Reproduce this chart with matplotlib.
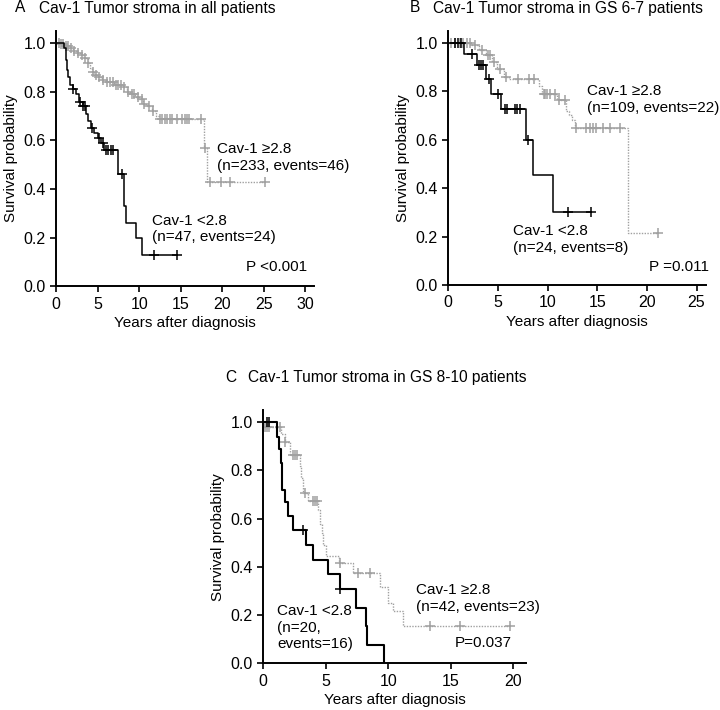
import numpy as np
import matplotlib
matplotlib.use('Agg')
import matplotlib.pyplot as plt

plt.rcParams['font.family'] = ['Liberation Sans', 'DejaVu Sans']

# ---------------- data ----------------
# Panel A - all patients
a_low_t = [0, 0.96, 1.2, 1.35, 1.5, 1.7, 2.0, 2.4, 2.8, 3.2, 3.6, 3.9, 4.2, 4.6, 5.0, 5.4, 5.8, 7.5, 8.2, 8.4, 9.6, 10.3]
a_low_s = [1.0, 0.98, 0.93, 0.89, 0.86, 0.83, 0.81, 0.79, 0.76, 0.74, 0.71, 0.68, 0.65, 0.63, 0.61, 0.59, 0.56, 0.46, 0.33, 0.26, 0.20, 0.13]
a_low_end = 14.6
a_low_cens = [2.0, 2.9, 3.3, 3.5, 4.3, 5.2, 5.6, 6.0, 6.3, 6.6, 6.9, 7.9, 11.8, 14.6]

a_high_t = [0, 0.5, 1.0, 1.5, 2.0, 2.5, 3.0, 3.4, 3.8, 4.1, 4.3, 4.6, 5.0, 5.5, 6.0, 7.0, 8.0, 8.5, 9.0, 9.5, 10.0, 10.5, 11.0, 11.5, 12.0, 12.4, 17.8, 18.1]
a_high_s = [1.0, 0.995, 0.99, 0.98, 0.97, 0.96, 0.95, 0.94, 0.92, 0.90, 0.88, 0.87, 0.86, 0.85, 0.84, 0.83, 0.82, 0.80, 0.79, 0.78, 0.77, 0.75, 0.74, 0.72, 0.70, 0.69, 0.57, 0.43]
a_high_end = 25.1
a_high_cens = [0.3, 0.6, 0.9, 1.2, 1.4, 1.8, 2.2, 2.6, 3.1, 3.5, 3.9, 4.4, 4.8, 5.2, 5.7, 6.1, 6.5,
               6.8, 7.2, 7.5, 7.8, 8.2, 8.6, 9.1, 9.4, 9.8, 10.3, 10.6, 11.2, 11.7, 12.5, 12.8, 13.1,
               13.4, 13.7, 14.0, 14.6, 15.1, 15.5, 15.7, 16.0, 17.4, 17.95, 18.5, 19.9, 20.9, 25.1]

# Panel B - GS 6-7
b_low_t = [0, 1.58, 2.85, 3.76, 4.26, 5.3, 7.8, 8.5, 10.5]
b_low_s = [1.0, 0.955, 0.91, 0.85, 0.79, 0.725, 0.60, 0.453, 0.302]
b_low_end = 14.4
b_low_cens = [0.7, 1.0, 1.3, 2.35, 3.1, 3.3, 3.5, 4.1, 5.0, 5.7, 5.9, 6.7, 6.9, 7.2, 8.05, 12.1, 14.4]

b_high_t = [0, 2.4, 3.1, 3.8, 4.4, 4.9, 5.6, 6.1, 9.1, 9.4, 10.9, 11.9, 12.2, 12.5, 12.8, 18.1]
b_high_s = [1.0, 0.99, 0.97, 0.95, 0.92, 0.89, 0.86, 0.85, 0.82, 0.79, 0.765, 0.72, 0.70, 0.68, 0.65, 0.215]
b_high_end = 21.1
b_high_cens = [0.3, 0.7, 1.2, 1.5, 1.9, 2.2, 2.7, 3.4, 4.0, 4.2, 4.6, 5.2, 5.8, 7.0, 8.1, 8.6,
               9.6, 9.75, 9.9, 10.2, 10.7, 11.1, 11.8, 12.9, 13.9, 14.3, 14.6, 14.9, 15.6, 16.3, 17.3, 21.1]

# Panel C - GS 8-10
c_low_t = [0, 1.07, 1.25, 1.4, 1.52, 1.73, 2.0, 2.4, 3.4, 4.0, 5.15, 6.1, 7.4, 8.2, 8.3, 9.65]
c_low_s = [1.0, 0.94, 0.89, 0.83, 0.72, 0.67, 0.61, 0.555, 0.49, 0.43, 0.37, 0.31, 0.23, 0.155, 0.077, 0.0]
c_low_end = 9.65
c_low_cens = [0.3, 0.45, 3.2, 6.15]

c_high_t = [0, 0.05, 1.4, 1.7, 2.1, 2.9, 3.05, 3.2, 3.6, 4.4, 4.55, 4.7, 4.8, 5.0, 6.05, 7.2, 9.3, 10.0, 10.4, 11.2]
c_high_s = [1.0, 0.98, 0.95, 0.92, 0.865, 0.82, 0.77, 0.705, 0.675, 0.635, 0.58, 0.54, 0.49, 0.445, 0.415, 0.373, 0.318, 0.25, 0.215, 0.155]
c_high_end = 19.7
c_high_cens = [0.1, 0.3, 0.45, 1.3, 1.75, 2.4, 2.55, 2.7, 3.3, 4.0, 4.15, 4.3, 6.1, 7.6, 8.5, 13.3, 15.7, 19.7]

GRAY = '#a0a0a0'
FS = 11


def draw_km(ax, t, s, end, cens, color, ls, lw):
    tt = list(t) + [end]
    ss = list(s) + [s[-1]]
    ax.step(tt, ss, where='post', color=color, linestyle=ls, linewidth=lw)
    idx = np.searchsorted(np.array(t), np.array(cens), side='right') - 1
    ax.plot(cens, np.array(s)[idx], linestyle='none', marker='+',
            color=color, markersize=7, markeredgewidth=1.1)


def style_axes(ax, xmax, xticks):
    ax.set_xlim(0, xmax)
    ax.set_ylim(0, 1.05)
    ax.set_xticks(xticks)
    ax.set_yticks([0, 0.2, 0.4, 0.6, 0.8, 1.0])
    ax.set_yticklabels(['0.0', '0.2', '0.4', '0.6', '0.8', '1.0'])
    for side in ['top', 'right']:
        ax.spines[side].set_visible(False)
    for side in ['left', 'bottom']:
        ax.spines[side].set_linewidth(1.4)
    ax.tick_params(direction='out', length=4, width=1.2, labelsize=11.5)
    ax.set_ylabel('Survival probability', fontsize=11)
    ax.set_xlabel('Years after diagnosis', fontsize=11, labelpad=3)


fig = plt.figure(figsize=(7.2, 7.1), dpi=100)

# ---- panel A ----
axA = fig.add_axes([0.0778, 0.597, 0.358, 0.3592])
draw_km(axA, a_high_t, a_high_s, a_high_end, a_high_cens, GRAY, (0, (1, 1)), 1.0)
draw_km(axA, a_low_t, a_low_s, a_low_end, a_low_cens, 'black', '-', 1.1)
style_axes(axA, 31, [0, 5, 10, 15, 20, 25, 30])
axA.text(19.4, 0.53, 'Cav-1 \u22652.8\n(n=233, events=46)', fontsize=FS, va='center', linespacing=1.25)
axA.text(11.5, 0.235, 'Cav-1 <2.8\n(n=47, events=24)', fontsize=FS, va='center', linespacing=1.25)
axA.text(30.2, 0.08, 'P <0.001', fontsize=FS, va='center', ha='right')
fig.text(15 / 720, 1 - 8 / 710, 'A', fontsize=11.2, va='center')
fig.text(39 / 720, 1 - 8 / 710, 'Cav-1 Tumor stroma in all patients', fontsize=11.2, va='center')

# ---- panel B ----
axB = fig.add_axes([0.6226, 0.5986, 0.3586, 0.3583])
draw_km(axB, b_high_t, b_high_s, b_high_end, b_high_cens, GRAY, (0, (1, 1)), 1.0)
draw_km(axB, b_low_t, b_low_s, b_low_end, b_low_cens, 'black', '-', 1.1)
style_axes(axB, 26, [0, 5, 10, 15, 20, 25])
axB.text(14.0, 0.765, 'Cav-1 \u22652.8\n(n=109, events=22)', fontsize=FS, va='center', linespacing=1.25)
axB.text(6.5, 0.188, 'Cav-1 <2.8\n(n=24, events=8)', fontsize=FS, va='center', linespacing=1.25)
axB.text(26.3, 0.075, 'P =0.011', fontsize=FS, va='center', ha='right')
fig.text(410 / 720, 1 - 8 / 710, 'B', fontsize=11.2, va='center')
fig.text(433 / 720, 1 - 8 / 710, 'Cav-1 Tumor stroma in GS 6-7 patients', fontsize=11.2, va='center')

# ---- panel C ----
axC = fig.add_axes([0.3657, 0.0658, 0.3646, 0.3564])
draw_km(axC, c_high_t, c_high_s, c_high_end, c_high_cens, GRAY, (0, (1, 1)), 1.0)
draw_km(axC, c_low_t, c_low_s, c_low_end, c_low_cens, 'black', '-', 1.5)
style_axes(axC, 21, [0, 5, 10, 15, 20])
axC.text(12.2, 0.268, 'Cav-1 \u22652.8\n(n=42, events=23)', fontsize=FS, va='center', linespacing=1.25)
axC.text(1.1, 0.148, 'Cav-1 <2.8\n(n=20,\nevents=16)', fontsize=FS, va='center', linespacing=1.25)
axC.text(15.3, 0.085, 'P=0.037', fontsize=FS, va='center')
fig.text(225 / 720, 1 - 378 / 710, 'C', fontsize=11.2, va='center')
fig.text(248 / 720, 1 - 378 / 710, 'Cav-1 Tumor stroma in GS 8-10 patients', fontsize=11.2, va='center')

fig.savefig('out.png', dpi=100)
